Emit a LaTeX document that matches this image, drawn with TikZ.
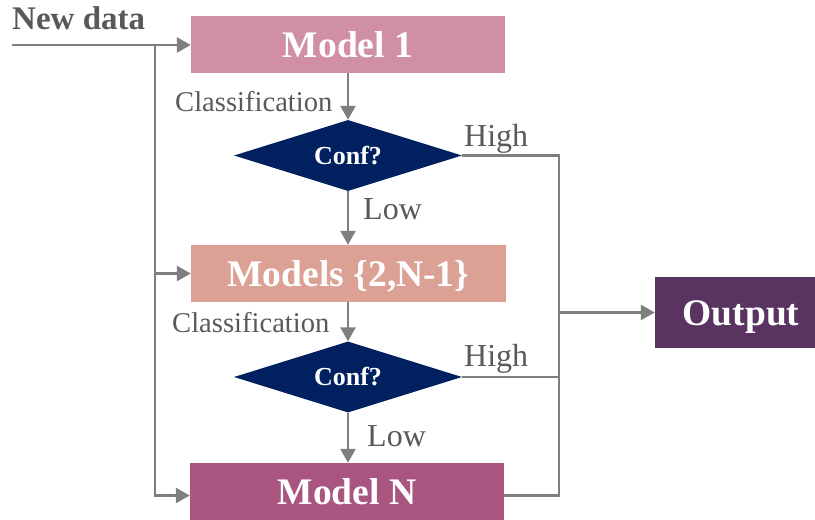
\documentclass[tikz,border=0pt]{standalone}
\usepackage{fontspec}
\setmainfont{Liberation Serif}
\usetikzlibrary{shapes.geometric,arrows.meta}

\definecolor{cmodelA}{HTML}{D18FA3}
\definecolor{cmodelB}{HTML}{DBA195}
\definecolor{cmodelN}{HTML}{A8567F}
\definecolor{coutput}{HTML}{5A3461}
\definecolor{cdecide}{HTML}{002060}
\definecolor{cline}{HTML}{7F7F7F}
\definecolor{clabel}{HTML}{595959}

\tikzset{
  box/.style={rectangle, draw=none, inner sep=0pt, text=white,
    font=\fontsize{37.5}{40}\selectfont\bfseries,
    text height=27pt, text depth=0pt},
  decide/.style={diamond, fill=cdecide, draw=none, inner sep=0pt,
    minimum width=228pt, minimum height=71pt, aspect=3.2, text=white,
    font=\fontsize{26}{30}\selectfont\bfseries},
  lbl/.style={anchor=base west, inner sep=0pt, text=clabel,
    font=\fontsize{32}{34}\selectfont},
  smalllbl/.style={lbl, font=\fontsize{28.6}{32}\selectfont},
  title/.style={anchor=base west, inner sep=0pt, text=clabel,
    font=\fontsize{33}{36}\selectfont\bfseries},
  wire/.style={draw=cline, line width=2.5pt},
  flow/.style={wire, -{Triangle[length=14pt,width=15pt]}},
}

\begin{document}
\begin{tikzpicture}[x=1pt,y=1pt]
  \useasboundingbox (0,0) rectangle (815,520);

  % processing boxes
  \node[box, fill=cmodelA, minimum width=314pt, minimum height=57pt] (m1) at (348,475.5) {Model 1};
  \node[box, fill=cmodelB, minimum width=315pt, minimum height=57pt] (m2) at (348.5,246.5) {Models \{2,N-1\}};
  \node[box, fill=cmodelN, minimum width=314pt, minimum height=57pt] (mN) at (347,28.5) {Model N};
  \node[box, fill=coutput, minimum width=160pt, minimum height=71pt] (out) at (735,207.5) {\hspace*{12pt}Output};

  % confidence checks
  \node[decide] (d1) at (348,364.5) {Conf?};
  \node[decide] (d2) at (348,143) {Conf?};

  % labels
  \node[title] (newdata) at (12,490) {New data};
  \node[smalllbl] (cls1) at (175,408) {Classification};
  \node[smalllbl] (cls2) at (172,187) {Classification};
  \node[lbl] (hi1) at (464,373) {High};
  \node[lbl] (hi2) at (464,153) {High};
  \node[lbl] (lo1) at (363,300) {Low};
  \node[lbl] (lo2) at (367,73) {Low};

  % input feed and its branches
  \coordinate (src) at (12,475);
  \coordinate (split) at (155,475);
  \coordinate (merge) at (559,0);
  \draw[flow] (src) -- (src -| m1.west);
  \draw[flow] (split) |- ([yshift=-4pt]mN.west);
  \draw[flow] (split |- m2.west) -- (m2.west);

  % cascade
  \draw[flow] (m1.south) -- (d1.north);
  \draw[flow] (d1.south) -- (d1.south |- m2.north);
  \draw[flow] (m2.south -| d2.north) -- (d2.north);
  \draw[flow] (d2.south) -- (d2.south |- mN.north);

  % high-confidence exits gathered to the output
  \draw[wire] (d1.east) -- (d1.east -| merge) -- ([yshift=-4pt]mN.east -| merge) -- ([yshift=-4pt]mN.east);
  \draw[wire] (d2.east) -- (d2.east -| merge);
  \draw[flow] (out.west -| merge) -- (out.west);
\end{tikzpicture}
\end{document}
